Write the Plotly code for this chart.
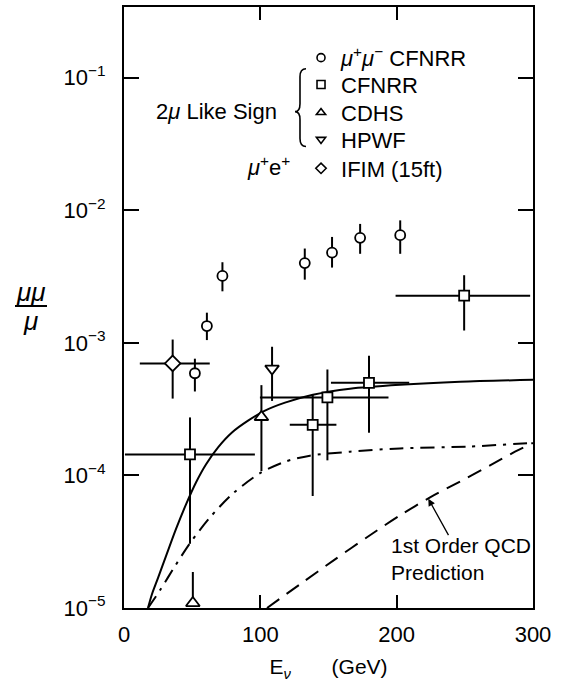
import plotly.graph_objects as go

FONT = "Liberation Sans"

# ---- data ----
# mu+ mu- CFNRR (circles)
mm_x = [52, 60.8, 72.2, 132.6, 152.6, 173.2, 202.6]
mm_y = [5.9e-4, 1.34e-3, 3.2e-3, 4.0e-3, 4.8e-3, 6.2e-3, 6.5e-3]
mm_hi = [7.6e-4, 1.69e-3, 4.06e-3, 5.15e-3, 6.3e-3, 7.9e-3, 8.4e-3]
mm_lo = [4.3e-4, 1.05e-3, 2.45e-3, 3.0e-3, 3.7e-3, 4.7e-3, 4.7e-3]

# 2mu like sign CFNRR (squares)
cf_x = [48.4, 138.4, 149.2, 179.7, 249.5]
cf_y = [1.44e-4, 2.41e-4, 3.88e-4, 5.0e-4, 2.27e-3]
cf_hi = [2.74e-4, 4.08e-4, 6.3e-4, 8.0e-4, 3.24e-3]
cf_lo = [3.05e-5, 7.0e-5, 1.3e-4, 2.1e-4, 1.24e-3]
cf_xlo = [0.7, 121.6, 99.7, 151.8, 199.2]
cf_xhi = [96.0, 155.8, 194.0, 209.2, 297.9]

# CDHS (up triangles)
cd_x = [50.5, 100.8]
cd_y = [1.09e-5, 2.76e-4]
cd_hi = [1.87e-5, 4.8e-4]
cd_lo = [1.09e-5, 1.08e-4]

# HPWF (down triangle)
hp_x = [108.6]
hp_y = [6.4e-4]
hp_hi = [9.35e-4]
hp_lo = [3.65e-4]

# IFIM (15ft) mu+ e+ (diamond)
if_x = [35.7]
if_y = [7.0e-4]
if_hi = [1.06e-3]
if_lo = [3.8e-4]
if_xlo = [11.6]
if_xhi = [62.9]

# curves
solid_x = [17.6, 20.5, 24.9, 30.8, 38.1, 45.5, 52.8, 60.1, 69.0, 79.2, 91.0, 103.4, 118.1,
           138.6, 165.8, 202.4, 246.5, 300]
solid_y = [1.0e-5, 1.27e-5, 1.68e-5, 2.46e-5, 3.93e-5, 6.05e-5, 8.85e-5, 1.21e-4, 1.63e-4,
           2.11e-4, 2.59e-4, 3.08e-4, 3.54e-4, 4.06e-4, 4.51e-4, 4.83e-4, 5.09e-4, 5.27e-4]
dd_x = [17.6, 26.4, 37.4, 48.4, 63.1, 80.0, 99.8, 118.1, 136.4, 165.8, 202.4, 251.6, 300]
dd_y = [1.0e-5, 1.36e-5, 2.07e-5, 3.08e-5, 4.83e-5, 7.32e-5, 1.04e-4, 1.27e-4, 1.41e-4,
        1.51e-4, 1.60e-4, 1.65e-4, 1.76e-4]
qcd_x = [104.9, 129.1, 154.8, 180.4, 202.4, 224.5, 246.5, 268.5, 286.8, 300]
qcd_y = [1.0e-5, 1.51e-5, 2.33e-5, 3.54e-5, 5.0e-5, 6.83e-5, 9.0e-5, 1.19e-4, 1.51e-4, 1.76e-4]

x_ticks = [0, 100, 200, 300]
y_ticks = [1e-5, 1e-4, 1e-3, 1e-2, 1e-1]
y_ticktext = ["10<sup>\u22125</sup>", "10<sup>\u22124</sup>", "10<sup>\u22123</sup>",
              "10<sup>\u22122</sup>", "10<sup>\u22121</sup>"]

legend_names = ["<i>\u03bc</i><sup>+</sup><i>\u03bc</i><sup>\u2212</sup> CFNRR", "CFNRR",
                "CDHS", "HPWF", "IFIM (15ft)"]

# ---- figure ----
fig = go.Figure()

def diff(a, b):
    return [p - q for p, q in zip(a, b)]

# curves
fig.add_trace(go.Scatter(x=solid_x, y=solid_y, mode="lines", showlegend=False,
                         line=dict(color="black", width=2, shape="spline", smoothing=0.8)))
fig.add_trace(go.Scatter(x=dd_x, y=dd_y, mode="lines", showlegend=False,
                         line=dict(color="black", width=2, shape="spline", smoothing=0.8,
                                   dash="14px,7px,3px,7px")))
fig.add_trace(go.Scatter(x=qcd_x, y=qcd_y, mode="lines", showlegend=False,
                         line=dict(color="black", width=2, shape="spline", smoothing=0.8,
                                   dash="15px,9px")))

mk_line = dict(color="black", width=1.8)

def pts(x, y, hi, lo, symbol, size, xlo=None, xhi=None):
    ex = None
    if xlo is not None:
        ex = dict(type="data", symmetric=False, array=diff(xhi, x), arrayminus=diff(x, xlo),
                  color="black", thickness=2, width=0)
    return go.Scatter(
        x=x, y=y, mode="markers", showlegend=False, cliponaxis=False,
        marker=dict(symbol=symbol, size=size, color="white", line=mk_line),
        error_y=dict(type="data", symmetric=False, array=diff(hi, y), arrayminus=diff(y, lo),
                     color="black", thickness=2, width=0),
        error_x=ex,
    )

fig.add_trace(pts(cf_x, cf_y, cf_hi, cf_lo, "square", 10, cf_xlo, cf_xhi))
fig.add_trace(pts(if_x, if_y, if_hi, if_lo, "diamond", 12, if_xlo, if_xhi))
fig.add_trace(pts(mm_x, mm_y, mm_hi, mm_lo, "circle", 10))
fig.add_trace(pts(cd_x, cd_y, cd_hi, cd_lo, "triangle-up", 12))
fig.add_trace(pts(hp_x, hp_y, hp_hi, hp_lo, "triangle-down", 12))

# legend entries (one legend per row so rows can be spaced like the original)
leg_symbols = ["circle-open", "square-open", "triangle-up-open", "triangle-down-open", "diamond-open"]
leg_rows_y = [0.9154, 0.8706, 0.8242, 0.7794, 0.7313]
leg_x = 0.4328
legend_layouts = {}
for i, (name, sym, ly) in enumerate(zip(legend_names, leg_symbols, leg_rows_y)):
    key = "legend" if i == 0 else f"legend{i+1}"
    fig.add_trace(go.Scatter(x=[None], y=[None], mode="markers", name=name, legend=key,
                             marker=dict(symbol=sym, size=8, color="black",
                                         line=dict(color="black", width=1.6))))
    legend_layouts[key] = dict(x=leg_x, y=ly, xanchor="left", yanchor="middle",
                               bgcolor="rgba(0,0,0,0)", borderwidth=0,
                               font=dict(family=FONT, size=22, color="black"))

fig.update_layout(**legend_layouts)

axis_common = dict(showline=True, linewidth=2, linecolor="black", mirror="ticks",
                   ticks="inside", tickwidth=2, tickcolor="black", showgrid=False,
                   zeroline=False, tickfont=dict(family=FONT, size=22, color="black"))

fig.update_xaxes(range=[0, 300], tickvals=x_ticks, ticktext=[str(v) for v in x_ticks],
                 ticklen=13, ticklabelstandoff=6,
                 title=dict(text="E<sub><i>\u03bd</i></sub>\u00a0\u00a0\u00a0\u00a0\u00a0\u00a0\u00a0(GeV)",
                            font=dict(family=FONT, size=21, color="black"), standoff=13),
                 **axis_common)
fig.update_yaxes(type="log", range=[-5, -0.466], tickvals=y_ticks, ticktext=y_ticktext,
                 ticklen=15, ticklabelstandoff=12, **axis_common)

def px_x(p):
    return (p - 124) / 409

def px_y(p):
    return (608 - p) / 603

annots = [
    dict(text="2<i>\u03bc</i> Like Sign", x=px_x(279), y=px_y(110), xanchor="right", yanchor="middle",
         font=dict(size=22)),
    dict(text="<i>\u03bc</i><sup>+</sup>e<sup>+</sup>", x=px_x(292), y=px_y(165), xanchor="right",
         yanchor="middle", font=dict(size=22)),
    dict(text="1st Order QCD<br>Prediction", x=px_x(389), y=px_y(559), xanchor="left",
         yanchor="middle", align="left", font=dict(size=21)),
    dict(text="<i>\u03bc\u03bc</i>", x=px_x(31), y=px_y(291), xanchor="center", yanchor="middle",
         font=dict(size=26)),
    dict(text="<i>\u03bc</i>", x=px_x(30), y=px_y(320), xanchor="center", yanchor="middle",
         font=dict(size=26)),
]
for a in annots:
    a.update(xref="paper", yref="paper", showarrow=False)
    a["font"].update(family=FONT, color="black")
    fig.add_annotation(**a)

# arrow pointing at the QCD curve
fig.add_annotation(x=223.2, y=-4.175, xref="x", yref="y", ax=21, ay=38, axref="pixel",
                   ayref="pixel", showarrow=True, arrowhead=2, arrowsize=1.1, arrowwidth=1.3,
                   arrowcolor="black", text="")

# fraction bar of the y title
fig.add_shape(type="line", xref="paper", yref="paper", x0=px_x(15), x1=px_x(47),
              y0=px_y(305), y1=px_y(305), line=dict(color="black", width=2))

# brace grouping the like-sign entries
def P(x, y):
    return f"{px_x(x):.4f},{px_y(y):.4f}"

brace = (f"M {P(306,67)} Q {P(300,67)} {P(300,75)} L {P(300,102)} Q {P(300,110)} {P(295,110)} "
         f"Q {P(300,110)} {P(300,118)} L {P(300,137)} Q {P(300,145)} {P(306,145)}")
fig.add_shape(type="path", xref="paper", yref="paper", path=brace,
              line=dict(color="black", width=1.6))

fig.update_layout(width=564, height=682, margin=dict(l=124, r=31, t=5, b=74),
                  plot_bgcolor="white", paper_bgcolor="white",
                  font=dict(family=FONT, color="black"))

fig.write_html("out.html")
